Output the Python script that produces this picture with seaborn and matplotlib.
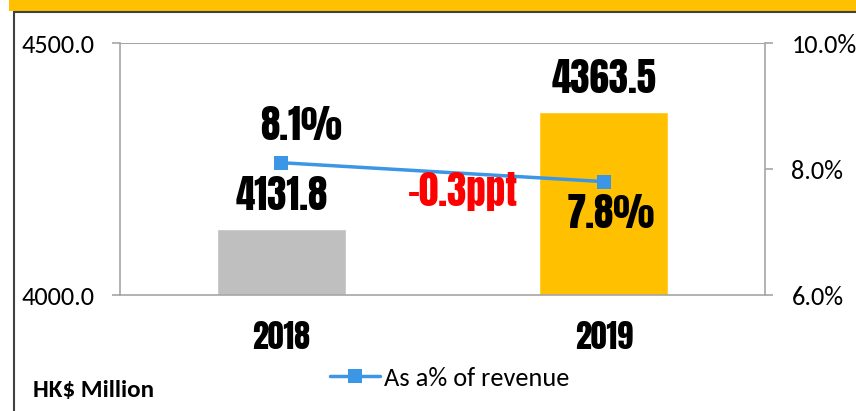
import matplotlib
matplotlib.use("Agg")
import matplotlib.pyplot as plt
from matplotlib.lines import Line2D
from matplotlib.patches import Rectangle
import seaborn as sns
import pandas as pd

years = ["2018", "2019"]
expense = [4131.8, 4363.5]
pct_revenue = [8.1, 7.8]
bar_colors = ["#BFBFBF", "#FFC000"]
change_label = "-0.3ppt"
legend_label = "As a% of revenue"
unit_label = "HK$ Million"

sns.set_theme(style="white")
plt.rcParams["font.family"] = ["Carlito", "DejaVu Sans"]
plt.rcParams["text.color"] = "black"
COND = ["Anton", "DejaVu Sans"]
BIG = 28

W, H = 856, 411
fig = plt.figure(figsize=(W / 100, H / 100), dpi=100)

# banner and frame
fig.add_artist(Rectangle((9 / W, 1 - 11 / H), 1, 11 / H, transform=fig.transFigure,
                         facecolor="#FFC000", edgecolor="none", zorder=0))
fig.add_artist(Line2D([14 / W, 1], [1 - 12 / H, 1 - 12 / H], transform=fig.transFigure,
                      color="#404040", lw=1.5))
fig.add_artist(Line2D([14 / W, 14 / W], [0, 1 - 12 / H], transform=fig.transFigure,
                      color="#404040", lw=1.5))

ax = fig.add_axes([120 / W, 1 - 295 / H, (765 - 120) / W, (295 - 43) / H])
df = pd.DataFrame({"year": years, "expense": expense})
sns.barplot(data=df, x="year", y="expense", hue="year", palette=bar_colors,
            width=0.4, legend=False, ax=ax, saturation=1)
ax.set_ylim(4000, 4500)
ax.set_yticks([4000, 4500])
ax.set_yticklabels(["4000.0", "4500.0"])
ax.set_xlim(-0.5, 1.5)
ax.set_xlabel("")
ax.set_ylabel("")
ax.grid(False)
ax.axhline(4500, color="#A6A6A6", lw=1.5, zorder=1)
for s in ["top", "right"]:
    ax.spines[s].set_visible(False)
for s in ["left", "bottom"]:
    ax.spines[s].set_color("#A6A6A6")
    ax.spines[s].set_linewidth(1.2)
ax.tick_params(axis="y", which="both", left=True, length=6, width=1.2, color="#A6A6A6",
               labelsize=19, pad=12, labelcolor="#000000")
ax.tick_params(axis="x", bottom=False, pad=13, labelcolor="#000000")
ax.set_xticks([0, 1])
ax.set_xticklabels(years, fontfamily=COND, fontsize=23)

for i, v in enumerate(expense):
    ax.annotate(f"{v:.1f}", (i, v), xytext=(0, 19), textcoords="offset pixels",
                ha="center", va="baseline", fontfamily=COND, fontsize=BIG, color="black")

ax2 = ax.twinx()
ldf = pd.DataFrame({"year": [0, 1], "pct": pct_revenue})
sns.lineplot(data=ldf, x="year", y="pct", ax=ax2, color="#3C96E6", lw=2.5,
             marker="s", markersize=10, markeredgewidth=0, legend=False)
ax2.set_ylim(6, 10)
ax2.set_yticks([6, 8, 10])
ax2.set_yticklabels(["6.0%", "8.0%", "10.0%"])
ax2.set_xlim(-0.5, 1.5)
ax2.set_ylabel("")
ax2.set_xlabel("")
ax2.grid(False)
for s in ["top", "left", "bottom"]:
    ax2.spines[s].set_visible(False)
ax2.spines["right"].set_color("#A6A6A6")
ax2.spines["right"].set_linewidth(1.2)
ax2.tick_params(axis="y", right=True, length=6, width=1.2, color="#A6A6A6",
                labelsize=19, pad=13, labelcolor="#000000")

ax2.annotate(f"{pct_revenue[0]:.1f}%", (0, pct_revenue[0]), xytext=(20, 23),
             textcoords="offset pixels", ha="center", va="baseline",
             fontfamily=COND, fontsize=BIG, color="black")
ax2.annotate(f"{pct_revenue[1]:.1f}%", (1, pct_revenue[1]), xytext=(7, -46),
             textcoords="offset pixels", ha="center", va="baseline",
             fontfamily=COND, fontsize=BIG, color="black")
ax2.annotate(change_label, (0.5, (pct_revenue[0] + pct_revenue[1]) / 2), xytext=(20, -34),
             textcoords="offset pixels", ha="center", va="baseline",
             fontfamily=COND, fontsize=BIG, color="#FF0000")

handle = Line2D([], [], color="#3C96E6", lw=2.5, marker="s", markersize=10, markeredgewidth=0)
fig.legend([handle], [legend_label], loc="center", bbox_to_anchor=(450 / W, 1 - 378 / H),
           frameon=False, fontsize=19, handlelength=1.9, handletextpad=0.15, labelcolor="black")

fig.text(33 / W, 1 - 390 / H, unit_label, ha="left", va="center", fontweight="bold",
         fontsize=18, color="black")

fig.savefig("out.png", dpi=100)
